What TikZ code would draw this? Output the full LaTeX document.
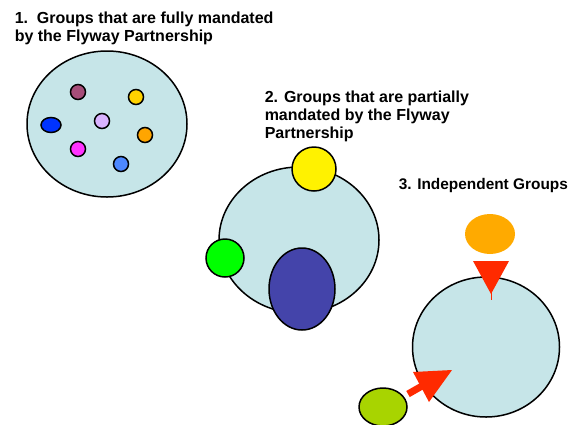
\documentclass[tikz,border=0pt]{standalone}
\usepackage{fontspec}
\setmainfont{Liberation Sans}
\definecolor{pool}{RGB}{198,229,232}
\definecolor{maroon}{RGB}{166,77,121}
\definecolor{gold}{RGB}{255,210,0}
\definecolor{royal}{RGB}{0,51,255}
\definecolor{lilac}{RGB}{217,179,255}
\definecolor{amber}{RGB}{255,165,0}
\definecolor{pinkish}{RGB}{255,51,255}
\definecolor{sky}{RGB}{77,136,255}
\definecolor{indigo}{RGB}{68,68,170}
\definecolor{tangerine}{RGB}{255,170,0}
\definecolor{flame}{RGB}{255,42,0}
\definecolor{lime}{RGB}{168,212,0}
\begin{document}
\begin{tikzpicture}[x=1pt, y=-1pt, line width=1.5pt, draw=black,
	grouplabel/.style={anchor=north west, inner sep=0pt, align=left, font=\fontsize{16}{18}\selectfont\bfseries}]
	\useasboundingbox (0,0) rectangle (572,424);
	% 1. fully mandated
	\node[grouplabel] (lab1) at (14,11) {1.\ \ Groups that are fully mandated\\by the Flyway Partnership};
	\filldraw[fill=pool]    (107,124) ellipse (80 and 73);
	\filldraw[fill=maroon]  (78,92)   circle (7.5);
	\filldraw[fill=gold]    (136,97)  circle (7.5);
	\filldraw[fill=royal]   (51,125)  ellipse (10 and 7.5);
	\filldraw[fill=lilac]   (102,121) circle (7.5);
	\filldraw[fill=amber]   (145,135) circle (7.5);
	\filldraw[fill=pinkish] (78,149)  circle (7.5);
	\filldraw[fill=sky]     (121,164) circle (7.5);
	% 2. partially mandated
	\node[grouplabel] (lab2) at (264,90) {2. Groups that are partially\\mandated by the Flyway\\Partnership};
	\filldraw[fill=pool]    (299,240) ellipse (80 and 73);
	\filldraw[fill=yellow]  (314,169) circle (22);
	\filldraw[fill=green]   (225,258) circle (19);
	\filldraw[fill=indigo]  (302,289) ellipse (33 and 41);
	% 3. independent
	\node[grouplabel, font=\fontsize{15.4}{17}\selectfont\bfseries] (lab3) at (398,178) {3. Independent Groups};
	\filldraw[fill=pool]    (486,347) ellipse (73.5 and 70);
	\fill[tangerine]        (490,234) ellipse (25 and 20);
	\fill[flame] (473,261) -- (509,261) -- (491,294) -- cycle;
	\draw[flame, line width=.8pt] (491,290) -- (491,300);
	\filldraw[fill=lime]    (383,407) ellipse (24 and 19);
	\draw[flame, line width=7pt] (408,394) -- (422,386);
	\fill[flame] (413,372) -- (452,370) -- (429,402) -- cycle;
\end{tikzpicture}
\end{document}
